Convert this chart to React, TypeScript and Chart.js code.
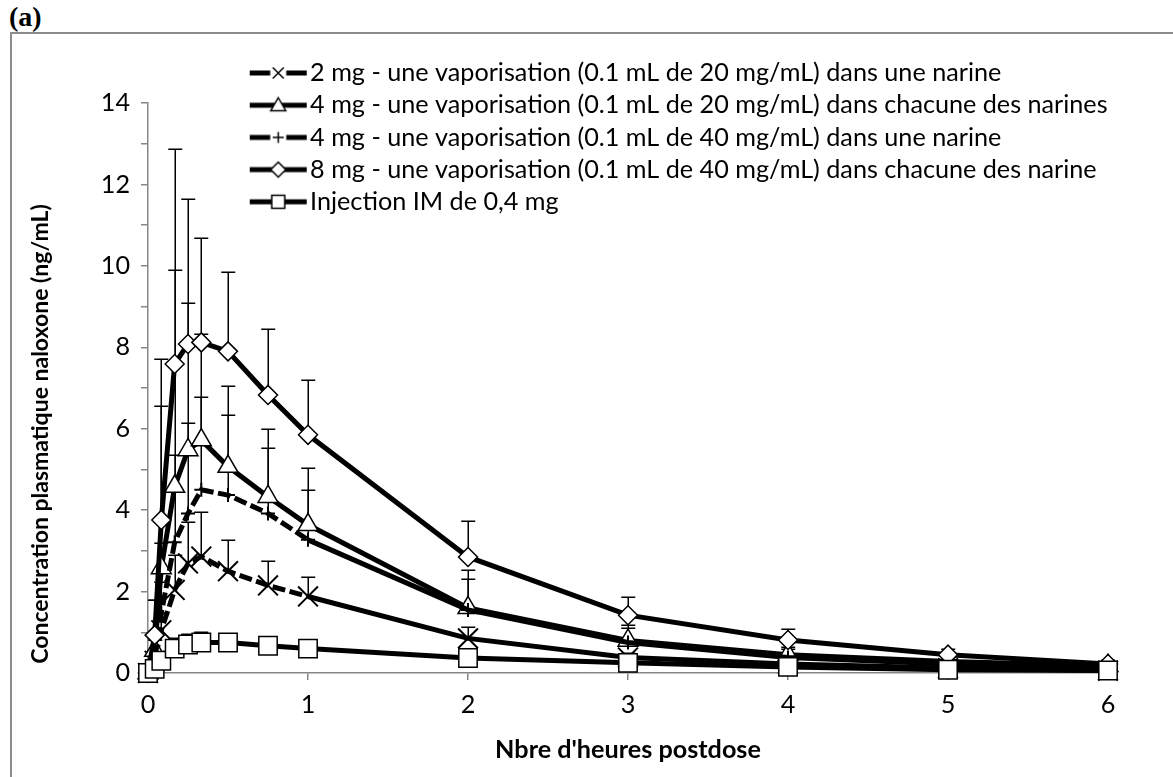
import React, { useEffect, useRef } from 'react';
import { Chart, registerables } from 'chart.js';

Chart.register(...registerables);

// ---------- data ----------
const hours = [0, 0.0417, 0.0833, 0.1667, 0.25, 0.3333, 0.5, 0.75, 1, 2, 3, 4, 5, 6];
const xTicks = [0, 1, 2, 3, 4, 5, 6];
const yTicks = [0, 2, 4, 6, 8, 10, 12, 14];

const seriesLabels = [
  '2 mg - une vaporisation (0.1 mL de 20 mg/mL) dans une narine',
  '4 mg - une vaporisation (0.1 mL de 20 mg/mL) dans chacune des narines',
  '4 mg - une vaporisation (0.1 mL de 40 mg/mL) dans une narine',
  '8 mg - une vaporisation (0.1 mL de 40 mg/mL) dans chacune des narine',
  'Injection IM de 0,4 mg',
];

const mean2mg20 = [0, 0.3, 1.05, 2.04, 2.69, 2.86, 2.5, 2.15, 1.88, 0.85, 0.38, 0.22, 0.12, 0.06];
const mean4mg20 = [0, 0.55, 2.58, 4.58, 5.48, 5.72, 5.07, 4.33, 3.64, 1.6, 0.8, 0.45, 0.28, 0.18];
const mean4mg40 = [0, 0.3, 1.47, 3.21, 3.92, 4.5, 4.37, 3.92, 3.27, 1.55, 0.75, 0.38, 0.22, 0.12];
const mean8mg40 = [0, 0.93, 3.76, 7.59, 8.08, 8.12, 7.9, 6.83, 5.85, 2.85, 1.42, 0.81, 0.45, 0.22];
const meanIM = [0, 0.1, 0.3, 0.6, 0.7, 0.75, 0.75, 0.67, 0.6, 0.37, 0.25, 0.15, 0.08, 0.06];

const upper2mg20 = [null, 0.8, 2.24, 2.9, 3.7, 3.96, 3.27, 2.74, 2.37, 1.14, 0.5, 0.3, 0.2, 0.1];
const upper4mg20 = [null, 1.8, 6.56, 9.89, 9.1, 8.33, 7.06, 6.0, 5.03, 2.52, 1.1, 0.65, 0.4, 0.28];
const upper4mg40 = [null, 0.9, 3.19, 5.36, 6.15, 6.77, 6.34, 5.52, 4.5, 2.32, 1.18, 0.6, 0.35, 0.2];
const upper8mg40 = [null, 1.8, 7.72, 12.87, 11.64, 10.68, 9.84, 8.46, 7.2, 3.74, 1.87, 1.08, 0.6, 0.32];
const upperIM = [null, 0.2, 0.5, 0.85, 0.95, 1.0, 0.95, 0.85, 0.75, 0.45, 0.3, 0.2, 0.14, 0.1];

const meanSeries = [mean2mg20, mean4mg20, mean4mg40, mean8mg40, meanIM];
const upperSeries = [upper2mg20, upper4mg20, upper4mg40, upper8mg40, upperIM];

// ---------- styles ----------
const FONT = 'Lato, "Open Sans", sans-serif';
const FS = 25.2;
const Y_TITLE_FS = 23;
const Y_TITLE_SHIFT = 46;
const LINE_W = 5;
const DASH = [13, 4.5];
const DASH_UNTIL_HOUR = 1;
const markerKinds = ['x', 'triangle', 'plus', 'diamond', 'square'];
const dashedSeries = [true, false, true, false, false];
const pointStyles = ['crossRot', 'triangle', 'cross', 'rectRot', 'rect'];
const pointRadii = [14, 11.5, 7, 9.5, 13];

function makeLegendIcon(kind: string, dashed: boolean): HTMLCanvasElement {
  const c = document.createElement('canvas');
  c.width = 68;
  c.height = 26;
  const g = c.getContext('2d')!;
  const cy = 13;
  const x0 = 10;
  const x1 = 67;
  const cx = (x0 + x1) / 2;
  g.strokeStyle = '#000';
  g.lineCap = 'butt';
  g.lineWidth = LINE_W;
  g.beginPath();
  if (dashed) {
    g.moveTo(x0, cy);
    g.lineTo(cx - 8, cy);
    g.moveTo(cx + 8, cy);
    g.lineTo(x1, cy);
  } else {
    g.moveTo(x0, cy);
    g.lineTo(x1, cy);
  }
  g.stroke();
  g.lineWidth = 1.5;
  g.fillStyle = '#fff';
  g.beginPath();
  if (kind === 'x') {
    g.moveTo(cx - 5.5, cy - 5.5);
    g.lineTo(cx + 5.5, cy + 5.5);
    g.moveTo(cx - 5.5, cy + 5.5);
    g.lineTo(cx + 5.5, cy - 5.5);
    g.stroke();
  } else if (kind === 'plus') {
    g.moveTo(cx - 5.5, cy);
    g.lineTo(cx + 5.5, cy);
    g.moveTo(cx, cy - 5.5);
    g.lineTo(cx, cy + 5.5);
    g.stroke();
  } else if (kind === 'triangle') {
    g.moveTo(cx, cy - 7.5);
    g.lineTo(cx + 7.5, cy + 5.5);
    g.lineTo(cx - 7.5, cy + 5.5);
    g.closePath();
    g.fill();
    g.stroke();
  } else if (kind === 'diamond') {
    g.moveTo(cx, cy - 7.5);
    g.lineTo(cx + 7.5, cy);
    g.lineTo(cx, cy + 7.5);
    g.lineTo(cx - 7.5, cy);
    g.closePath();
    g.fill();
    g.stroke();
  } else {
    g.rect(cx - 6.5, cy - 6.5, 13, 13);
    g.fill();
    g.stroke();
  }
  return c;
}

const errorBarPlugin = {
  id: 'errorBars',
  beforeDatasetsDraw(chart: any) {
    const { ctx } = chart;
    const xs = chart.scales.x;
    const ys = chart.scales.y;
    ctx.save();
    ctx.strokeStyle = '#000';
    ctx.lineWidth = 1.5;
    upperSeries.forEach((ups, si) => {
      const means = meanSeries[si];
      ups.forEach((u, j) => {
        if (u == null) return;
        const px = Math.round(xs.getPixelForValue(hours[j])) + 0.25;
        const py0 = ys.getPixelForValue(means[j]);
        const py1 = Math.round(ys.getPixelForValue(u)) + 0.25;
        ctx.beginPath();
        ctx.moveTo(px, py0);
        ctx.lineTo(px, py1);
        ctx.moveTo(px - 7, py1);
        ctx.lineTo(px + 7, py1);
        ctx.stroke();
      });
    });
    ctx.restore();
  },
};

const layoutTweaks = {
  id: 'layoutTweaks',
  afterLayout(chart: any) {
    const lg = chart.legend;
    if (lg) {
      const h = lg.height;
      lg.left = 243;
      lg.right = 1108;
      lg.top = 73 - 7 - FS / 2;
      lg.bottom = lg.top + h;
    }
    const ys = chart.scales.y;
    if (ys && !ys.__titleShifted) {
      const orig = ys.drawTitle;
      ys.drawTitle = function (...args: any[]) {
        const t = this.top;
        const b = this.bottom;
        this.top = t + Y_TITLE_SHIFT;
        this.bottom = b + Y_TITLE_SHIFT;
        try {
          orig.apply(this, args);
        } finally {
          this.top = t;
          this.bottom = b;
        }
      };
      ys.__titleShifted = true;
    }
  },
};

export default function App() {
  const ref = useRef<HTMLCanvasElement | null>(null);

  useEffect(() => {
    const canvas = ref.current;
    if (!canvas) return;
    const icons = markerKinds.map((k, i) => makeLegendIcon(k, dashedSeries[i]));

    const datasets = seriesLabels.map((label, i) => ({
      label,
      data: hours.map((h, j) => ({ x: h, y: meanSeries[i][j] })),
      borderColor: '#000',
      backgroundColor: '#fff',
      borderWidth: LINE_W,
      borderDash: [],
      segment: {
        borderDash: (ctx: any) =>
          dashedSeries[i] && ctx.p1.parsed.x <= DASH_UNTIL_HOUR ? DASH : [],
      },
      pointStyle: pointStyles[i],
      pointRadius: pointRadii[i],
      pointBorderWidth: i === 0 || i === 2 ? 2 : 1.5,
      pointBorderColor: '#000',
      pointBackgroundColor: '#fff',
      tension: 0,
      clip: false as any,
      order: 4 - i,
    }));

    const tickFont = { family: FONT, size: FS };
    const titleFont = { family: FONT, size: FS, weight: 'bold' as const };

    const chart = new Chart(canvas, {
      type: 'line',
      data: { datasets },
      options: {
        animation: false,
        responsive: false,
        devicePixelRatio: 1,
        layout: { padding: { top: 103, right: 65, left: 0, bottom: 0 } },
        plugins: {
          legend: {
            position: 'chartArea' as any,
            align: 'start',
            labels: {
              usePointStyle: true,
              pointStyleWidth: 47.5,
              padding: 7,
              color: '#000',
              font: { family: FONT, size: FS },
              generateLabels: () =>
                seriesLabels.map((text, i) => ({
                  text,
                  pointStyle: icons[i] as any,
                  datasetIndex: i,
                  hidden: false,
                  lineWidth: 0,
                  strokeStyle: 'rgba(0,0,0,0)',
                  fillStyle: 'rgba(0,0,0,0)',
                  fontColor: '#000',
                })),
            },
          },
          tooltip: { enabled: false },
        },
        scales: {
          x: {
            type: 'linear',
            min: 0,
            max: 6,
            afterBuildTicks: (s: any) => {
              s.ticks = xTicks.map((v) => ({ value: v }));
            },
            ticks: { color: '#000', font: tickFont, padding: 10, autoSkip: false, maxRotation: 0 },
            grid: { drawOnChartArea: false, tickLength: 7, color: '#868686', lineWidth: 1.5 },
            border: { color: '#868686', width: 1.5 },
            title: {
              display: true,
              text: "Nbre d'heures postdose",
              color: '#000',
              font: titleFont,
              padding: { top: 0, bottom: 12 },
            },
            afterFit: (s: any) => {
              s.height = 104;
            },
          },
          y: {
            type: 'linear',
            min: 0,
            max: 14,
            afterBuildTicks: (s: any) => {
              const t: { value: number }[] = [];
              for (let v = 0; v <= 14; v += 1) t.push({ value: v });
              s.ticks = t;
            },
            ticks: {
              color: '#000',
              font: tickFont,
              padding: 11,
              autoSkip: false,
              callback: (v: any) => (yTicks.includes(Number(v)) ? String(v) : ''),
            },
            grid: { drawOnChartArea: false, tickLength: 7, color: '#868686', lineWidth: 1.5 },
            border: { color: '#868686', width: 1.5 },
            title: {
              display: true,
              text: 'Concentration plasmatique naloxone (ng/mL)',
              color: '#000',
              font: { family: FONT, size: Y_TITLE_FS, weight: 'bold' as const },
              padding: { top: 27, bottom: 0 },
            },
            afterFit: (s: any) => {
              s.width = 148;
            },
          },
        },
      },
      plugins: [errorBarPlugin, layoutTweaks],
    });

    return () => chart.destroy();
  }, []);

  return (
    <div
      style={{
        position: 'absolute',
        left: 0,
        top: 0,
        width: 1173,
        height: 777,
        overflow: 'hidden',
        background: '#fff',
      }}
    >
      <div
        style={{
          position: 'absolute',
          left: 9,
          top: 1,
          fontFamily: '"Liberation Serif", "Times New Roman", serif',
          fontWeight: 'bold',
          fontSize: 28,
          lineHeight: '32px',
          color: '#000',
        }}
      >
        (a)
      </div>
      <div
        style={{
          position: 'absolute',
          left: 10,
          top: 32,
          width: 1300,
          height: 900,
          borderLeft: '2px solid #8c8c8c',
          borderTop: '2px solid #8c8c8c',
        }}
      />
      <canvas ref={ref} width={1173} height={777} style={{ position: 'absolute', left: 0, top: 0 }} />
    </div>
  );
}
